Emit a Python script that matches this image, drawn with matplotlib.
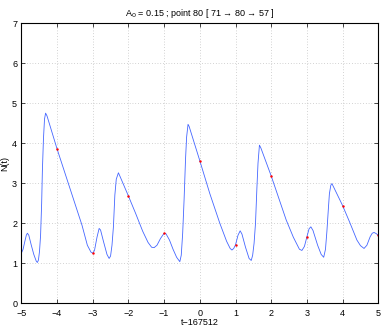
import matplotlib
matplotlib.use('Agg')
import matplotlib.pyplot as plt

plt.rcParams['font.family'] = ['Liberation Sans', 'DejaVu Sans']

# Curve
t = [-5.00, -4.95, -4.90, -4.86, -4.83, -4.79, -4.72, -4.65, -4.58, -4.55, -4.52, -4.49,
     -4.46, -4.43, -4.41, -4.38, -4.35, -4.32, -4.28, -4.00, -3.30, -3.15, -3.05, -3.00,
     -2.95, -2.88, -2.82, -2.78, -2.70, -2.60, -2.54, -2.50, -2.46, -2.42, -2.38, -2.34,
     -2.28, -2.24, -2.00, -1.80, -1.60, -1.45, -1.35, -1.28, -1.20, -1.10, -1.00, -0.95,
     -0.85, -0.75, -0.65, -0.56, -0.52, -0.48, -0.44, -0.40, -0.37, -0.33, -0.30, 0.00,
     0.28, 0.56, 0.75, 0.85, 0.90, 0.95, 1.00, 1.07, 1.13, 1.18, 1.28, 1.38,
     1.44, 1.48, 1.52, 1.56, 1.60, 1.63, 1.67, 1.71, 2.00, 2.42, 2.62, 2.79,
     2.86, 2.93, 3.00, 3.06, 3.11, 3.17, 3.30, 3.40, 3.47, 3.52, 3.56, 3.60,
     3.63, 3.67, 3.70, 3.75, 4.00, 4.20, 4.40, 4.50, 4.60, 4.68, 4.77, 4.83,
     4.88, 4.94, 5.00]
N = [1.25, 1.35, 1.55, 1.70, 1.75, 1.70, 1.45, 1.22, 1.05, 1.02, 1.08, 1.30,
     1.70, 2.50, 3.30, 4.10, 4.60, 4.75, 4.68, 3.86, 1.95, 1.45, 1.28, 1.25,
     1.32, 1.65, 1.87, 1.83, 1.55, 1.22, 1.12, 1.18, 1.45, 1.91, 2.70, 3.10,
     3.26, 3.18, 2.68, 2.25, 1.80, 1.52, 1.40, 1.39, 1.45, 1.62, 1.75, 1.74,
     1.58, 1.35, 1.15, 1.04, 1.20, 1.75, 2.60, 3.60, 4.15, 4.47, 4.42, 3.56,
     2.74, 2.00, 1.55, 1.37, 1.33, 1.37, 1.46, 1.70, 1.81, 1.73, 1.40, 1.12,
     1.07, 1.20, 1.50, 2.00, 2.90, 3.50, 3.95, 3.88, 3.18, 2.08, 1.65, 1.35,
     1.32, 1.42, 1.66, 1.86, 1.91, 1.82, 1.45, 1.22, 1.15, 1.35, 1.80, 2.35,
     2.74, 2.95, 2.99, 2.90, 2.44, 2.02, 1.58, 1.44, 1.37, 1.45, 1.66, 1.75,
     1.77, 1.74, 1.70]

# Sampled points (red)
t_pts = [-4, -3, -2, -1, 0, 1, 2, 3, 4, 5]
N_pts = [3.86, 1.25, 2.68, 1.75, 3.56, 1.46, 3.18, 1.66, 2.44, 1.70]

fig = plt.figure(figsize=(3.86, 3.27), dpi=100)
ax = fig.add_axes([0.0552, 0.0725, 0.9249, 0.857])

ax.plot(t, N, color='#4466ff', linewidth=0.6)
ax.plot(t_pts, N_pts, '.', color='red', markersize=1.5)

ax.set_xlim(-5, 5)
ax.set_ylim(0, 7)
ax.set_xticks(range(-5, 6))
ax.set_yticks(range(0, 8))
ax.grid(True, linestyle=(0, (1, 3)), color='#aaaaaa', linewidth=0.5)
ax.tick_params(direction='in', length=3, width=0.5, labelsize=6.5,
               top=True, right=True)
ax.tick_params(axis='x', pad=4)
ax.tick_params(axis='y', pad=3)
for s in ax.spines.values():
    s.set_linewidth(0.8)

ax.set_xlabel('t\u2212167512', fontsize=6.5, labelpad=0)
ax.set_ylabel('N(t)', fontsize=6.5, labelpad=2)
ax.set_title('A$_0$ = 0.15 ; point 80 [ 71 \u2192 80 \u2192 57 ]', fontsize=6.5, pad=5)

fig.savefig('out.png', dpi=100)
